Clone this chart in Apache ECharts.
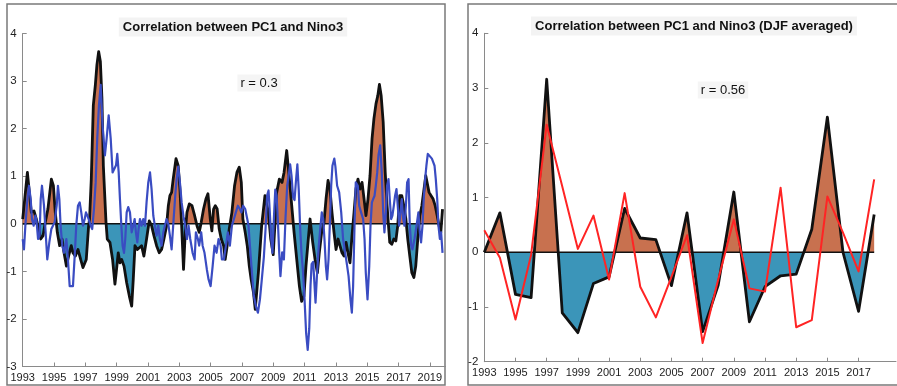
<!DOCTYPE html>
<html>
<head>
<meta charset="utf-8">
<script src="https://cdn.jsdelivr.net/npm/echarts@6/dist/echarts.min.js"></script>
<style>
  html, body { margin: 0; padding: 0; background: #fff; }
  #chart { width: 897px; height: 386px; }
</style>
</head>
<body>
<div id="chart"></div>
<script>
// left panel: monthly PC1 (black, filled) and Nino3 (blue)
const pcTime = [1993.00, 1993.30, 1993.55, 1993.72, 1993.87, 1994.02, 1994.15, 1994.30, 1994.44, 1994.61, 1994.83, 1994.96,
  1995.08, 1995.21, 1995.36, 1995.51, 1995.64, 1995.79, 1995.93, 1996.10, 1996.21, 1996.36, 1996.53, 1996.70, 1996.85,
  1997.06, 1997.21, 1997.27, 1997.38, 1997.51, 1997.64, 1997.74, 1997.85, 1997.96, 1998.06, 1998.15, 1998.32, 1998.40,
  1998.57, 1998.74, 1998.89, 1998.97, 1999.10, 1999.21, 1999.32, 1999.47, 1999.64, 1999.81, 1999.96, 2000.06, 2000.17,
  2000.32, 2000.44, 2000.59, 2000.74, 2000.91, 2001.08, 2001.23, 2001.38, 2001.55, 2001.72, 2001.87, 2002.02, 2002.19,
  2002.30, 2002.40, 2002.51, 2002.61, 2002.79, 2002.93, 2003.04, 2003.15, 2003.27, 2003.38, 2003.49, 2003.64, 2003.81,
  2003.98, 2004.13, 2004.27, 2004.40, 2004.55, 2004.70, 2004.83, 2004.98, 2005.08, 2005.19, 2005.30, 2005.42, 2005.55,
  2005.68, 2005.83, 2005.93, 2006.06, 2006.19, 2006.36, 2006.53, 2006.68, 2006.83, 2006.96, 2007.06, 2007.21, 2007.34,
  2007.47, 2007.59, 2007.74, 2007.85, 2008.05, 2008.26, 2008.47, 2008.69, 2008.84, 2009.00, 2009.22, 2009.39, 2009.56,
  2009.69, 2009.86, 2010.03, 2010.18, 2010.33, 2010.50, 2010.67, 2010.81, 2010.96, 2011.09, 2011.22, 2011.35, 2011.52,
  2011.67, 2011.82, 2011.94, 2012.09, 2012.24, 2012.37, 2012.50, 2012.62, 2012.75, 2012.88, 2013.01, 2013.14, 2013.26,
  2013.39, 2013.52, 2013.65, 2013.77, 2013.90, 2014.03, 2014.16, 2014.28, 2014.41, 2014.54, 2014.67, 2014.80, 2014.92,
  2015.05, 2015.18, 2015.31, 2015.43, 2015.56, 2015.68, 2015.78, 2015.89, 2016.02, 2016.15, 2016.27, 2016.36, 2016.44,
  2016.57, 2016.70, 2016.83, 2016.95, 2017.08, 2017.21, 2017.34, 2017.47, 2017.59, 2017.72, 2017.85, 2017.98, 2018.10,
  2018.23, 2018.36, 2018.49, 2018.61, 2018.74, 2018.83, 2018.95, 2019.08, 2019.21, 2019.34, 2019.47, 2019.59, 2019.70,
  2019.81]
const pcValue = [0.10, 1.08, 0.24, 0.27, 0.10, -0.11, -0.32, -0.25, 0.03, 0.31, 0.94, 0.80,
  0.24, -0.18, -0.46, -0.32, -0.61, -0.89, -0.68, -0.46, -0.61, -0.68, -0.54, -0.75, -0.92,
  -0.75, -0.04, 0.10, 0.94, 2.49, 2.92, 3.34, 3.62, 3.41, 2.63, 1.22, 0.03, -0.32,
  -0.39, -0.75, -1.27, -1.03, -0.61, -0.82, -0.75, -0.89, -1.24, -1.52, -1.73, -1.17, -0.46,
  -0.54, -0.54, -0.46, -0.68, -0.32, 0.06, -0.04, -0.25, -0.46, -0.61, -0.54, -0.32, -0.04,
  0.38, 0.59, 0.66, 0.94, 1.37, 1.22, 0.73, -0.04, -0.96, -0.18, 0.24, 0.42, 0.38,
  0.17, -0.04, -0.18, 0.03, 0.31, 0.52, 0.63, 0.10, -0.15, 0.31, 0.38, 0.31, -0.11,
  -0.32, -0.46, -0.75, -0.46, -0.11, 0.24, 0.80, 1.08, 1.19, 0.87, 0.10, -0.18, -0.46,
  -0.89, -1.17, -1.45, -1.80, -1.03, -0.04, 0.59, 0.24, -0.32, -0.65, 0.66, 0.94, 0.87,
  1.08, 1.54, 0.94, 0.38, -0.18, -0.75, -1.31, -1.63, -1.52, -0.89, -0.39, 0.10, -0.39,
  -0.75, -1.03, -0.61, -0.18, 0.03, 0.52, 0.91, 0.73, 0.24, -0.18, -0.54, -0.32, -0.46,
  -0.61, -0.68, -0.39, -0.61, -0.82, -0.25, 0.24, 0.73, 0.94, 0.73, 0.87, 0.52, 0.17,
  0.52, 1.01, 1.79, 2.21, 2.52, 2.70, 2.93, 2.70, 2.14, 1.08, 0.38, -0.04, -0.39,
  -0.43, -0.32, -0.36, -0.04, 0.59, 0.59, 0.38, 0.10, -0.32, -0.68, -1.03, -1.13, -0.89,
  -0.32, 0.17, 0.38, 0.38, 1.01, 1.01, 0.66, 0.59, 0.52, 0.38, 0.17, -0.04, -0.18,
  0.31]

const ninoTime = [1993.00, 1993.08, 1993.17, 1993.30, 1993.40, 1993.51, 1993.59, 1993.70, 1993.81, 1993.87, 1993.98,
  1994.08, 1994.15, 1994.23, 1994.36, 1994.49, 1994.57, 1994.70, 1994.83, 1994.93, 1995.04, 1995.17, 1995.25, 1995.34,
  1995.42, 1995.53, 1995.64, 1995.79, 1995.89, 1996.00, 1996.10, 1996.21, 1996.32, 1996.42, 1996.53, 1996.64, 1996.74,
  1996.85, 1996.96, 1997.04, 1997.13, 1997.21, 1997.34, 1997.44, 1997.55, 1997.66, 1997.76, 1997.87, 1997.98, 1998.10,
  1998.25, 1998.36, 1998.49, 1998.62, 1998.74, 1998.85, 1998.96, 1999.04, 1999.13, 1999.21, 1999.30, 1999.38, 1999.47,
  1999.55, 1999.64, 1999.74, 1999.85, 1999.96, 2000.06, 2000.15, 2000.23, 2000.32, 2000.40, 2000.49, 2000.59, 2000.70,
  2000.81, 2000.91, 2001.02, 2001.13, 2001.23, 2001.34, 2001.44, 2001.55, 2001.66, 2001.76, 2001.87, 2001.98, 2002.08,
  2002.19, 2002.30, 2002.40, 2002.51, 2002.61, 2002.74, 2002.83, 2002.93, 2003.04, 2003.15, 2003.27, 2003.38, 2003.49,
  2003.59, 2003.70, 2003.85, 2003.98, 2004.06, 2004.19, 2004.27, 2004.40, 2004.49, 2004.61, 2004.76, 2004.87, 2005.00,
  2005.13, 2005.25, 2005.38, 2005.51, 2005.64, 2005.72, 2005.85, 2005.98, 2006.10, 2006.23, 2006.36, 2006.49, 2006.61,
  2006.74, 2006.87, 2006.96, 2007.08, 2007.21, 2007.34, 2007.42, 2007.51, 2007.64, 2007.76, 2007.89, 2008.02, 2008.15,
  2008.27, 2008.40, 2008.51, 2008.61, 2008.70, 2008.78, 2008.87, 2008.95, 2009.04, 2009.13, 2009.21, 2009.29, 2009.38,
  2009.46, 2009.57, 2009.68, 2009.78, 2009.89, 2010.00, 2010.08, 2010.17, 2010.27, 2010.36, 2010.45, 2010.54, 2010.63,
  2010.72, 2010.80, 2010.90, 2011.00, 2011.10, 2011.20, 2011.30, 2011.38, 2011.45, 2011.55, 2011.62, 2011.70, 2011.80,
  2011.91, 2012.02, 2012.10, 2012.19, 2012.27, 2012.36, 2012.44, 2012.53, 2012.61, 2012.70, 2012.78, 2012.90, 2012.97,
  2013.08, 2013.21, 2013.34, 2013.46, 2013.59, 2013.72, 2013.81, 2013.93, 2014.02, 2014.10, 2014.19, 2014.27, 2014.40,
  2014.49, 2014.61, 2014.74, 2014.83, 2014.91, 2015.02, 2015.13, 2015.21, 2015.30, 2015.38, 2015.47, 2015.55, 2015.64,
  2015.72, 2015.83, 2015.93, 2016.02, 2016.10, 2016.19, 2016.27, 2016.36, 2016.44, 2016.53, 2016.61, 2016.70, 2016.78,
  2016.87, 2016.95, 2017.04, 2017.13, 2017.21, 2017.30, 2017.38, 2017.47, 2017.55, 2017.64, 2017.72, 2017.81, 2017.89,
  2018.02, 2018.15, 2018.27, 2018.36, 2018.44, 2018.53, 2018.61, 2018.70, 2018.78, 2018.87, 2018.97, 2019.13, 2019.21,
  2019.30, 2019.38, 2019.47, 2019.55, 2019.64, 2019.72, 2019.81]
const ninoValue = [-0.32, -0.54, -0.04, 0.52, 0.80, 0.52, 0.10, -0.04, 0.17, 0.10, -0.32,
  -0.25, 0.52, 0.80, 0.38, -0.32, -0.75, -0.39, -0.11, -0.04, 0.03, 0.38, 0.80, 0.52,
  -0.04, -0.46, -0.61, -0.32, -0.75, -1.31, -1.35, -1.31, -0.68, -0.04, 0.38, 0.45, 0.24,
  -0.04, 0.10, 0.24, 0.17, 0.10, -0.04, -0.11, 0.31, 0.87, 1.79, 2.49, 2.92, 2.07,
  1.44, 1.79, 2.28, 1.79, 1.08, 1.08, 1.23, 1.47, 1.08, 0.52, -0.04, -0.46, -0.61,
  -0.32, 0.24, 0.35, 0.24, -0.18, -0.04, 0.10, -0.18, -0.39, -0.11, 0.10, -0.04, 0.10,
  -0.04, 0.45, 0.87, 1.08, 0.73, 0.17, -0.04, -0.25, -0.04, -0.32, -0.46, -0.18, -0.04,
  0.10, -0.01, -0.25, -0.54, -0.04, 0.59, 0.94, 1.20, 0.87, 0.45, 0.15, -0.04, -0.32,
  -0.04, -0.32, -0.61, -0.75, -0.18, -0.32, -0.46, -0.18, -0.46, -0.61, -0.96, -1.17, -1.31,
  -0.89, -0.46, -0.61, -0.32, -0.46, -0.75, -0.75, -0.46, -0.18, -0.46, -0.04, 0.10, 0.24,
  0.38, 0.31, 0.24, 0.38, 0.31, 0.10, -0.04, -0.46, -1.03, -1.52, -1.73, -1.87, -1.59,
  -1.17, -0.70, -0.10, 0.60, 0.70, 0.24, -0.32, -0.61, 0.10, 0.72, 0.60, 0.10, -0.60,
  -1.10, -0.60, -0.75, 0.10, 0.80, 1.05, 1.25, 1.00, 0.55, 0.50, 0.90, 1.25, 0.70,
  -0.10, -0.60, -1.00, -1.60, -2.30, -2.65, -2.20, -1.30, -0.85, -0.80, -1.20, -1.66, -1.03,
  -0.46, -0.04, 0.24, 0.10, -0.32, -0.89, -1.17, -0.75, -0.04, 0.80, 1.22, 1.37, 1.20,
  0.80, 0.66, 0.24, -0.32, -0.60, -0.89, -1.10, -1.59, -1.87, -1.31, -0.04, 0.87, 0.80,
  0.38, 0.24, 0.10, -0.32, -1.03, -1.59, -0.89, -0.04, 0.45, 0.52, 0.59, 0.80, 1.08,
  1.44, 1.65, 1.08, 0.24, -0.18, 0.24, 0.80, 0.94, 0.52, 0.10, 0.17, 0.38, 0.59,
  0.73, 0.38, -0.04, 0.24, 0.52, 0.10, -0.04, 0.38, 0.87, 0.94, -0.04, -0.46, -0.54,
  -0.32, -0.04, 0.24, -0.18, -0.39, -0.04, 0.52, 0.94, 1.22, 1.47, 1.47, 1.37, 1.30,
  1.22, 0.94, 0.52, -0.04, -0.32, -0.18, -0.61]

// right panel: DJF averages
const djfYears = [1993, 1994, 1995, 1996, 1997, 1998, 1999, 2000, 2001, 2002, 2003, 2004, 2005,
  2006, 2007, 2008, 2009, 2010, 2011, 2012, 2013, 2014, 2015, 2016, 2017, 2018]
const djfPc = [0.0, 0.72, -0.77, -0.83, 3.16, -1.11, -1.47, -0.57, -0.45, 0.80, 0.26, 0.23, -0.61,
  0.72, -1.45, -0.60, 1.10, -1.27, -0.63, -0.43, -0.40, 0.42, 2.47, 0.0, -1.08, 0.69]
const djfNino = [0.40, -0.10, -1.23, -0.05, 2.33, 1.20, 0.06, 0.67, -0.50, 1.08, -0.63, -1.19, -0.45,
  0.31, -1.66, -0.50, 0.60, -0.66, -0.72, 1.18, -1.37, -1.24, 1.02, 0.36, -0.35, 1.33]

// tick labels
const leftYearTicks = [1993, 1995, 1997, 1999, 2001, 2003, 2005, 2007, 2009, 2011, 2013, 2015, 2017, 2019]
const rightYearTicks = [1993, 1995, 1997, 1999, 2001, 2003, 2005, 2007, 2009, 2011, 2013, 2015, 2017]

const leftTitle = 'Correlation between PC1 and Nino3'
const rightTitle = 'Correlation between PC1 and Nino3 (DJF averaged)'
const leftR = 'r = 0.3'
const rightR = 'r = 0.56'

const posColor = '#c8714f'
const negColor = '#3b95b9'
const font = '"Liberation Sans", Arial, Helvetica, sans-serif'

const zip = (xs, ys) => xs.map((x, i) => [x, ys[i]])
const pcData = zip(pcTime, pcValue)
const ninoData = zip(ninoTime, ninoValue)
const djfPcData = zip(djfYears, djfPc)
const djfNinoData = zip(djfYears, djfNino)

const axisGray = '#8a8a8a'
const makeX = (gridIndex, max, ticks) => ({
  type: 'value', gridIndex, min: 1993, max, interval: 2,
  axisLine: { show: true, onZero: false, lineStyle: { color: axisGray, width: 1 } },
  axisTick: { show: true, inside: true, length: 4, customValues: ticks, lineStyle: { color: axisGray } },
  axisLabel: { color: '#222', fontSize: 11, fontFamily: font, margin: 6, customValues: ticks,
    formatter: (v) => String(v) },
  splitLine: { show: false },
})
const makeY = (gridIndex, min, max) => ({
  type: 'value', gridIndex, min, max, interval: 1,
  axisLine: { show: true, onZero: false, lineStyle: { color: axisGray, width: 1 } },
  axisTick: { show: true, inside: true, length: 4, lineStyle: { color: axisGray } },
  axisLabel: { color: '#222', fontSize: 11.5, fontFamily: font, margin: 6 },
  splitLine: { show: false },
})

const fillSeries = (idx, data) => ({
  type: 'line', xAxisIndex: idx, yAxisIndex: idx, data, symbol: 'none',
  lineStyle: { width: 0 }, areaStyle: { opacity: 1, origin: 0 }, z: 1, silent: true,
})
const zeroSeries = (idx, t0, t1) => ({
  type: 'line', xAxisIndex: idx, yAxisIndex: idx, data: [[t0, 0], [t1, 0]], symbol: 'none',
  lineStyle: { color: '#111', width: 1.6 }, z: 2, silent: true,
})
const lineSeries = (idx, data, color, width, z) => ({
  type: 'line', xAxisIndex: idx, yAxisIndex: idx, data, symbol: 'none',
  lineStyle: { color, width, join: 'round' }, z, silent: true,
})
const signPieces = [{ min: -10, max: 0, color: negColor }, { min: 0, max: 10, color: posColor }]

const chart = echarts.init(document.getElementById('chart'))
chart.setOption({
  animation: false,
  backgroundColor: '#fff',
  grid: [
    { left: 22.7, right: 451.5, top: 33.5, bottom: 19.5 },
    { left: 484.3, right: 1, top: 33.3, bottom: 24.3 },
  ],
  xAxis: [makeX(0, 2020, leftYearTicks), makeX(1, 2019.4, rightYearTicks)],
  yAxis: [makeY(0, -3, 4), makeY(1, -2, 4)],
  visualMap: [
    { show: false, type: 'piecewise', seriesIndex: 0, dimension: 1, pieces: signPieces },
    { show: false, type: 'piecewise', seriesIndex: 4, dimension: 1, pieces: signPieces },
  ],
  series: [
    fillSeries(0, pcData),
    zeroSeries(0, pcTime[0], pcTime[pcTime.length - 1]),
    lineSeries(0, pcData, '#111', 2.8, 3),
    lineSeries(0, ninoData, '#3a4cc2', 2.2, 4),
    fillSeries(1, djfPcData),
    zeroSeries(1, djfYears[0], djfYears[djfYears.length - 1]),
    lineSeries(1, djfPcData, '#111', 2.8, 3),
    lineSeries(1, djfNinoData, '#ff2424', 2, 4),
  ],
  graphic: [
    { type: 'rect', shape: { x: 7, y: 4, width: 438, height: 381 },
      style: { fill: 'none', stroke: '#7a7a7a', lineWidth: 1.5 }, silent: true },
    { type: 'rect', shape: { x: 468, y: 4, width: 440, height: 381 },
      style: { fill: 'none', stroke: '#7a7a7a', lineWidth: 1.5 }, silent: true },
    { type: 'text', x: 233, y: 27, silent: true,
      style: { text: leftTitle, fill: '#111', font: 'bold 13px ' + font, align: 'center', verticalAlign: 'middle',
        backgroundColor: '#f3f3f3', padding: [3, 4] } },
    { type: 'text', x: 694, y: 26, silent: true,
      style: { text: rightTitle, fill: '#111', font: 'bold 13px ' + font, align: 'center', verticalAlign: 'middle',
        backgroundColor: '#f3f3f3', padding: [3, 4] } },
    { type: 'text', x: 259, y: 83, silent: true,
      style: { text: leftR, fill: '#111', font: '13px ' + font, align: 'center', verticalAlign: 'middle',
        backgroundColor: '#f5f5f5', padding: [2, 3] } },
    { type: 'text', x: 723, y: 90, silent: true,
      style: { text: rightR, fill: '#111', font: '13px ' + font, align: 'center', verticalAlign: 'middle',
        backgroundColor: '#f5f5f5', padding: [2, 3] } },
  ],
})
</script>
</body>
</html>
